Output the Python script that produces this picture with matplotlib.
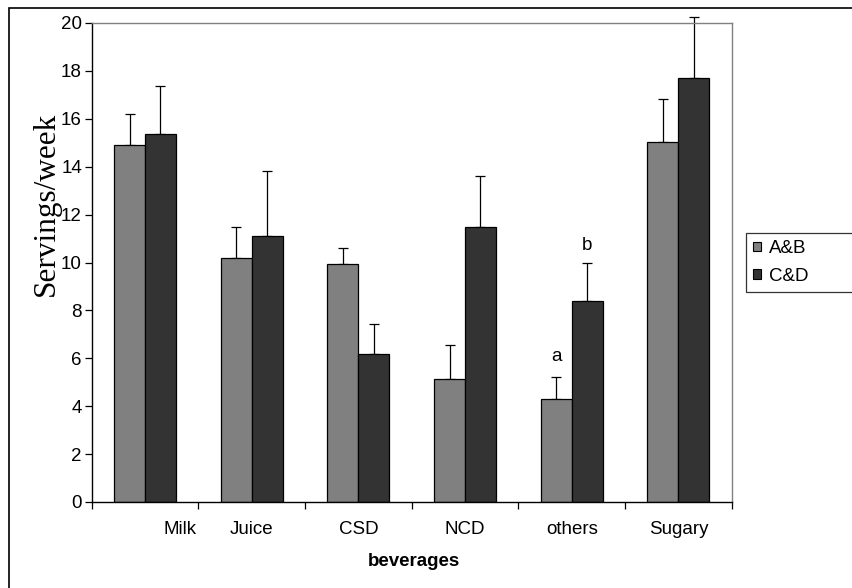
import matplotlib
matplotlib.use("Agg")
import matplotlib.pyplot as plt
import numpy as np
from matplotlib.patches import Rectangle
from matplotlib.transforms import ScaledTranslation, blended_transform_factory

categories = ["Milk", "Juice", "CSD", "NCD", "others", "Sugary"]
series_names = ["A&B", "C&D"]
ab_values = [14.9, 10.2, 9.95, 5.12, 4.3, 15.02]
ab_errors = [1.3, 1.3, 0.65, 1.44, 0.93, 1.81]
cd_values = [15.37, 11.1, 6.18, 11.5, 8.4, 17.72]
cd_errors = [2.0, 2.7, 1.25, 2.1, 1.6, 2.52]
yticks = [0, 2, 4, 6, 8, 10, 12, 14, 16, 18, 20]
annot_texts = ["a", "b"]

plt.rcParams['font.family'] = ['Liberation Sans', 'DejaVu Sans']
FS = 13.5

W, H = 853, 588
fig = plt.figure(figsize=(W / 100, H / 100), dpi=100)
ax = fig.add_axes([91.7 / W, 1 - 502 / H, (731.7 - 91.7) / W, (502 - 23) / H])

x = np.arange(len(categories))
bw = 0.29
ekw = dict(elinewidth=0.9, capthick=0.9, ecolor='black')
ax.bar(x - bw / 2, ab_values, bw, color='#808080', edgecolor='black', linewidth=0.9,
       label=series_names[0], zorder=2)
ax.bar(x + bw / 2, cd_values, bw, color='#333333', edgecolor='black', linewidth=0.9,
       label=series_names[1], zorder=2)
e1 = ax.errorbar(x - bw / 2, ab_values, yerr=[np.zeros(len(x)), ab_errors], fmt='none',
                 capsize=3.6, zorder=1, **ekw)
e2 = ax.errorbar(x + bw / 2, cd_values, yerr=[np.zeros(len(x)), cd_errors], fmt='none',
                 capsize=3.6, zorder=1, **ekw)
for e in (e1, e2):
    for art in list(e.lines[1]) + list(e.lines[2]):
        art.set_clip_on(False)

ax.set_xlim(-0.5, len(categories) - 0.5)
ax.set_ylim(0, 20)
ax.set_yticks(yticks)
ax.set_yticklabels([str(v) for v in yticks], fontsize=FS)
ax.set_xticks(np.arange(len(categories) + 1) - 0.5)
ax.set_xticklabels([])
ax.tick_params(axis='both', direction='out', length=5, width=0.9, color='black', pad=2)

for s in ('left', 'bottom'):
    ax.spines[s].set_color('black')
    ax.spines[s].set_linewidth(1.0)
for s in ('top', 'right'):
    ax.spines[s].set_color('#808080')
    ax.spines[s].set_linewidth(1.0)

# category labels
trans = blended_transform_factory(ax.transData, ax.transAxes)
for i, c in enumerate(categories):
    off = 35 / 100 if i == 0 else 0
    ax.text(i, 0, c, transform=trans + ScaledTranslation(off, -28 / 100, fig.dpi_scale_trans),
            ha='center', va='center', fontsize=FS)

# annotations
ax.text(x[4] - bw / 2, 6.07, annot_texts[0], ha='center', va='center', fontsize=FS)
ax.text(x[4] + bw / 2, 10.73, annot_texts[1], ha='center', va='center', fontsize=FS)

fig.text(414 / W, 1 - 561.7 / H, "beverages", ha='center', va='center',
         fontsize=FS, fontweight='bold')
fig.text(46 / W, 1 - 204 / H, "Servings/week", rotation=90, ha='center', va='center',
         fontsize=22.5, family=['Liberation Serif', 'DejaVu Serif'])

leg = ax.legend(loc='upper left', bbox_to_anchor=(745.7 / W, 1 - 232.7 / H, 0.2, 0.0),
                bbox_transform=fig.transFigure, mode='expand', fontsize=FS,
                handlelength=0.42, handleheight=0.42, handletextpad=0.4,
                labelspacing=0.55, borderpad=0.4, borderaxespad=0, frameon=True,
                fancybox=False, shadow=False)
leg.get_frame().set_edgecolor('black')
leg.get_frame().set_linewidth(0.9)
for h in leg.legend_handles:
    h.set_linewidth(0.8)

fig.patches.append(Rectangle((8.5, -20), 900, 588 - 7 + 20 - 0.5, transform=None,
                             fill=False, edgecolor='black', linewidth=1.2))

fig.savefig("out.png", dpi=100)
